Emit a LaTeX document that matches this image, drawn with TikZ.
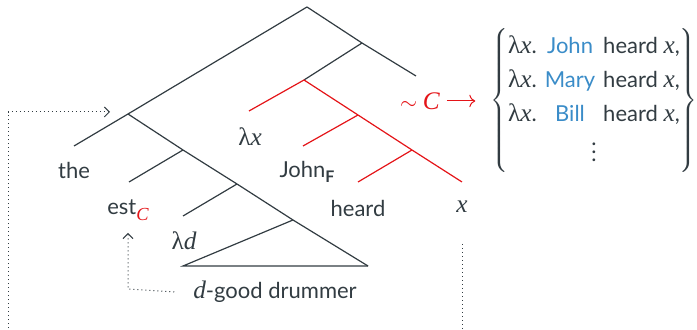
\documentclass[tikz,border=0pt]{standalone}
\usepackage{fontspec}
\setmainfont{Lato}
\newfontfamily\grk[Scale=1.15]{Liberation Serif}
\usetikzlibrary{arrows.meta}
\definecolor{treegray}{RGB}{50,60,66}
\definecolor{focusred}{RGB}{228,20,24}
\definecolor{altblue}{RGB}{58,140,200}
\newcommand{\lam}{{\grk λ}}
\newcommand{\mv}[1]{{\grk\itshape #1}}

\begin{document}
\begin{tikzpicture}[x=0.5pt, y=-0.5pt,
    every node/.style={text=treegray, font=\fontsize{11}{13}\selectfont},
    branch/.style={draw=treegray, line width=0.6pt},
    focus/.style={draw=focusred, line width=0.6pt},
    movedots/.style={draw=treegray, line width=0.5pt, dash pattern=on 0.5pt off 1.5pt, -{Straight Barb[length=2.5pt, width=5pt, line width=0.5pt]}}
]
    \clip (0,0) rectangle (697,330);

    % branching points
    \coordinate (root) at (307,7);
    \coordinate (nL) at (128,114);
    \coordinate (nA) at (183,150);
    \coordinate (nB) at (237,184);
    \coordinate (nC) at (293,220);
    \coordinate (triL) at (183,266);
    \coordinate (triR) at (368,266);
    \coordinate (nR) at (362,43);
    \coordinate (nX) at (304,80);
    \coordinate (nY) at (358,115);
    \coordinate (nZ) at (412,150);

    % branch ends
    \coordinate (endThe) at (74,146);
    \coordinate (endEst) at (129,182);
    \coordinate (endLd) at (183,216);
    \coordinate (endTop) at (416,76);
    \coordinate (endLx) at (249,111);
    \coordinate (endJohn) at (303,146);
    \coordinate (endHeard) at (358,182);
    \coordinate (endX) at (462,182);

    % leaves
    \node (the) at (74,170) {the};
    \node (est) at (128,210) {est\raisebox{-0.5ex}{\footnotesize\textcolor{focusred}{\mv{C}}}};
    \node (lamd) at (184,241) {\lam\mv{d}};
    \node (drummer) at (275,292) {\mv{d}-good drummer};
    \node (lamx) at (250,137) {\lam\mv{x}};
    \node (john) at (307,172) {John\raisebox{-0.5ex}{\footnotesize\bfseries F}};
    \node (heard) at (358,208) {heard};
    \node (varx) at (462,207) {\mv{x}};

    % tree, matrix part
    \draw[branch] (root) -- (nL) -- (endThe);
    \draw[branch] (nL) -- (nA) -- (nB) -- (nC) -- (triR);
    \draw[branch] (nA) -- (endEst);
    \draw[branch] (nB) -- (endLd);
    \draw[branch] (nC) -- (triL) -- (triR);
    \draw[branch] (root) -- (nR) -- (endTop);
    \draw[branch] (nR) -- (nX);

    % tree, focus domain
    \draw[focus] (nX) -- (endLx);
    \draw[focus] (nX) -- (nY) -- (nZ) -- (endX);
    \draw[focus] (nY) -- (endJohn);
    \draw[focus] (nZ) -- (endHeard);

    % alternatives
    \node[text=focusred] (simC) at (420,101) {$\sim$\ \mv{C}};
    \node (altset) at (594,101) {$\left\{\renewcommand{\arraystretch}{1.3}\begin{tabular}{@{}l@{\hspace{4pt}}c@{\hspace{4pt}}l@{}}
        \lam\mv{x}. & \textcolor{altblue}{John} & heard \mv{x},\\
        \lam\mv{x}. & \textcolor{altblue}{Mary} & heard \mv{x},\\
        \lam\mv{x}. & \textcolor{altblue}{Bill} & heard \mv{x},\\
        \multicolumn{3}{c}{$\vdots$}
    \end{tabular}\right\}$};
    \draw[draw=focusred, line width=0.5pt, -{To[length=3pt]}, shorten >=4pt] (simC.east) -- (altset.west);

    % movement
    \coordinate (cornerR) at (462,345);
    \coordinate (cornerL) at (8,345);
    \coordinate (cornerT) at (8,112);
    \coordinate (tipL) at (110,112);
    \coordinate (cornerE) at (128,289);
    \coordinate (tipE) at (128,233);
    \draw[movedots] ([yshift=-12pt]varx.south) -- (cornerR) -- (cornerL) -- (cornerT) -- (tipL);
    \draw[movedots] ([xshift=-6pt]drummer.west) -- (cornerE) -- (tipE);
\end{tikzpicture}
\end{document}
